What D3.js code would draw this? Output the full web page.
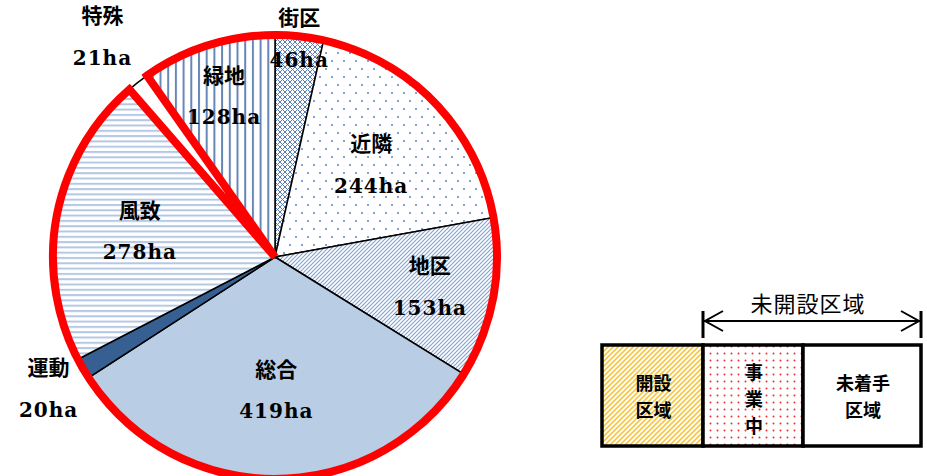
<!DOCTYPE html>
<html>
<head>
<meta charset="utf-8">
<script src="https://cdn.jsdelivr.net/npm/d3@7/dist/d3.min.js"></script>
<style>
  body { margin: 0; background: #ffffff; }
  .jp { font-family: "Noto Sans CJK JP", sans-serif; font-weight: bold; }
  .num { font-family: "DejaVu Serif", serif; font-weight: bold; letter-spacing: 1px; }
</style>
</head>
<body>
<svg id="chart" width="927" height="476"></svg>
<script>

// ----- Daten ------------------------------------------------------------------------ //

var categories = ['街区', '近隣', '地区', '総合', '運動', '風致', '特殊', '緑地'];
var areas      = [46, 244, 153, 419, 20, 278, 21, 128];
var unit       = 'ha';
var highlight  = '特殊';   // dieses Segment liegt ausserhalb der roten Umrandung

var legendLabels = [['開設', '区域'], ['事', '業', '中'], ['未着手', '区域']];
var legendTitle  = '未開設区域';

// Label-Abstand vom Mittelpunkt (Faktor vom Radius)
var labelRadius = [0.99, 0.6, 0.71, 0.6, 1.18, 0.62, 1.26, 0.76];
var fills = ['url(#p-cross)', 'url(#p-dots)', 'url(#p-diag)', '#b9cde5', '#376092', 'url(#p-hor)', '#ffffff', 'url(#p-vert)'];


var svg = d3.select('#chart');
var defs = svg.append('defs');

// ----- Muster ----------------------------------------------------------------------- //

function makePattern(id, w, h, bg, draw) {
    var p = defs.append('pattern')
        .attr('id', id)
        .attr('patternUnits', 'userSpaceOnUse')
        .attr('width', w)
        .attr('height', h);
    p.append('rect').attr('width', w).attr('height', h).attr('fill', bg);
    draw(p);
    return p;
}

makePattern('p-cross', 5, 5, '#ffffff', function (p) {
    p.append('path').attr('d', 'M0,0 L5,5 M5,0 L0,5').attr('stroke', '#5b7db5').attr('stroke-width', 1);
});

makePattern('p-dots', 12, 16, '#ffffff', function (p) {
    p.append('circle').attr('cx', 3).attr('cy', 4).attr('r', 1).attr('fill', '#5b84c4');
    p.append('circle').attr('cx', 9).attr('cy', 12).attr('r', 1).attr('fill', '#5b84c4');
});

makePattern('p-diag', 4, 4, '#ffffff', function (p) {
    p.append('path').attr('d', 'M-1,1 L1,-1 M0,4 L4,0 M3,5 L5,3').attr('stroke', '#86a4d2').attr('stroke-width', 1.2);
});

makePattern('p-hor', 6, 5.3, '#ffffff', function (p) {
    p.append('rect').attr('y', 0).attr('width', 6).attr('height', 2).attr('fill', '#b4c7e3');
});

makePattern('p-vert', 7.7, 6, '#ffffff', function (p) {
    p.append('rect').attr('x', 0).attr('width', 2).attr('height', 6).attr('fill', '#6686b8');
});

makePattern('p-yellow', 5, 5, '#ffffff', function (p) {
    p.append('path').attr('d', 'M-1,1 L1,-1 M0,5 L5,0 M4,6 L6,4').attr('stroke', '#f6c745').attr('stroke-width', 1.6);
});

makePattern('p-red', 7, 7, '#ffffff', function (p) {
    p.append('circle').attr('cx', 3.5).attr('cy', 3.5).attr('r', 1).attr('fill', '#f03030');
});


// ----- Kreisdiagramm ---------------------------------------------------------------- //

var cx = 275, cy = 257, radius = 222;

var pie = d3.pie().sort(null).value(function (d) { return d; });
var arcs = pie(areas);
var arc = d3.arc().innerRadius(0).outerRadius(radius);

var pieGroup = svg.append('g').attr('transform', 'translate(' + cx + ',' + cy + ')');

pieGroup.selectAll('path.slice')
    .data(arcs)
    .enter()
    .append('path')
    .attr('class', 'slice')
    .attr('d', arc)
    .attr('fill', function (d, i) { return fills[i]; })
    .attr('stroke', '#000000')
    .attr('stroke-width', 1.5);

// rote Umrandung um alle Segmente ausser "特殊"
var hi = arcs[categories.indexOf(highlight)];
pieGroup.append('path')
    .attr('d', d3.arc()({innerRadius: 0, outerRadius: radius, startAngle: hi.endAngle, endAngle: hi.startAngle + 2 * Math.PI}))
    .attr('fill', 'none')
    .attr('stroke', '#ff0000')
    .attr('stroke-width', 8)
    .attr('stroke-linejoin', 'miter')
    .attr('stroke-miterlimit', 4);

// Beschriftung
var labels = pieGroup.selectAll('g.label')
    .data(arcs)
    .enter()
    .append('g')
    .attr('class', 'label')
    .attr('transform', function (d, i) {
        var a = (d.startAngle + d.endAngle) / 2;
        var r = radius * labelRadius[i];
        return 'translate(' + (Math.sin(a) * r) + ',' + (-Math.cos(a) * r) + ')';
    });

labels.append('text')
    .attr('class', 'jp')
    .attr('text-anchor', 'middle')
    .attr('y', -21)
    .attr('dy', '0.36em')
    .style('font-size', '21px')
    .text(function (d, i) { return categories[i]; });

labels.append('text')
    .attr('class', 'num')
    .attr('text-anchor', 'middle')
    .attr('y', 21)
    .attr('dy', '0.36em')
    .style('font-size', '20px')
    .text(function (d) { return d.data + unit; });


// ----- Legende ---------------------------------------------------------------------- //

var legendX = d3.scaleLinear().domain([0, 1, 2, 3]).range([602, 703, 803, 921]);
var legendTop = 345, legendBottom = 446;
var legendFills = ['url(#p-yellow)', 'url(#p-red)', '#ffffff'];

var legend = svg.append('g');

legendLabels.forEach(function (lines, i) {
    var x0 = legendX(i), x1 = legendX(i + 1);
    legend.append('rect')
        .attr('x', x0).attr('y', legendTop)
        .attr('width', x1 - x0).attr('height', legendBottom - legendTop)
        .attr('fill', legendFills[i])
        .attr('stroke', '#000000')
        .attr('stroke-width', 3.5);

    var step = 27;
    var midY = lines.length > 2 ? 400 : 397;
    lines.forEach(function (line, j) {
        legend.append('text')
            .attr('class', 'jp')
            .attr('text-anchor', 'middle')
            .attr('x', (x0 + x1) / 2 + 1)
            .attr('y', midY + (j - (lines.length - 1) / 2) * step)
            .attr('dy', '0.36em')
            .style('font-size', '18px')
            .text(line);
    });
});

// Pfeil "未開設区域"
var arrowY = 321;
var ax0 = legendX(1), ax1 = legendX(3);

legend.append('line')
    .attr('x1', ax0).attr('x2', ax1).attr('y1', arrowY).attr('y2', arrowY)
    .attr('stroke', '#000000').attr('stroke-width', 2);

[ax0, ax1].forEach(function (x) {
    legend.append('line')
        .attr('x1', x).attr('x2', x).attr('y1', arrowY - 10).attr('y2', arrowY + 17)
        .attr('stroke', '#000000').attr('stroke-width', 3);
});

legend.append('path')
    .attr('d', 'M' + (ax0 + 20) + ',' + (arrowY - 10) + ' L' + (ax0 + 2) + ',' + arrowY + ' L' + (ax0 + 20) + ',' + (arrowY + 10))
    .attr('fill', 'none').attr('stroke', '#000000').attr('stroke-width', 2);

legend.append('path')
    .attr('d', 'M' + (ax1 - 20) + ',' + (arrowY - 10) + ' L' + (ax1 - 2) + ',' + arrowY + ' L' + (ax1 - 20) + ',' + (arrowY + 10))
    .attr('fill', 'none').attr('stroke', '#000000').attr('stroke-width', 2);

legend.append('text')
    .attr('x', (ax0 + ax1) / 2 - 4)
    .attr('y', 304)
    .attr('dy', '0.36em')
    .attr('text-anchor', 'middle')
    .style('font-family', '"Noto Sans CJK JP", sans-serif')
    .style('font-size', '22px')
    .style('letter-spacing', '1px')
    .text(legendTitle);

</script>
</body>
</html>
